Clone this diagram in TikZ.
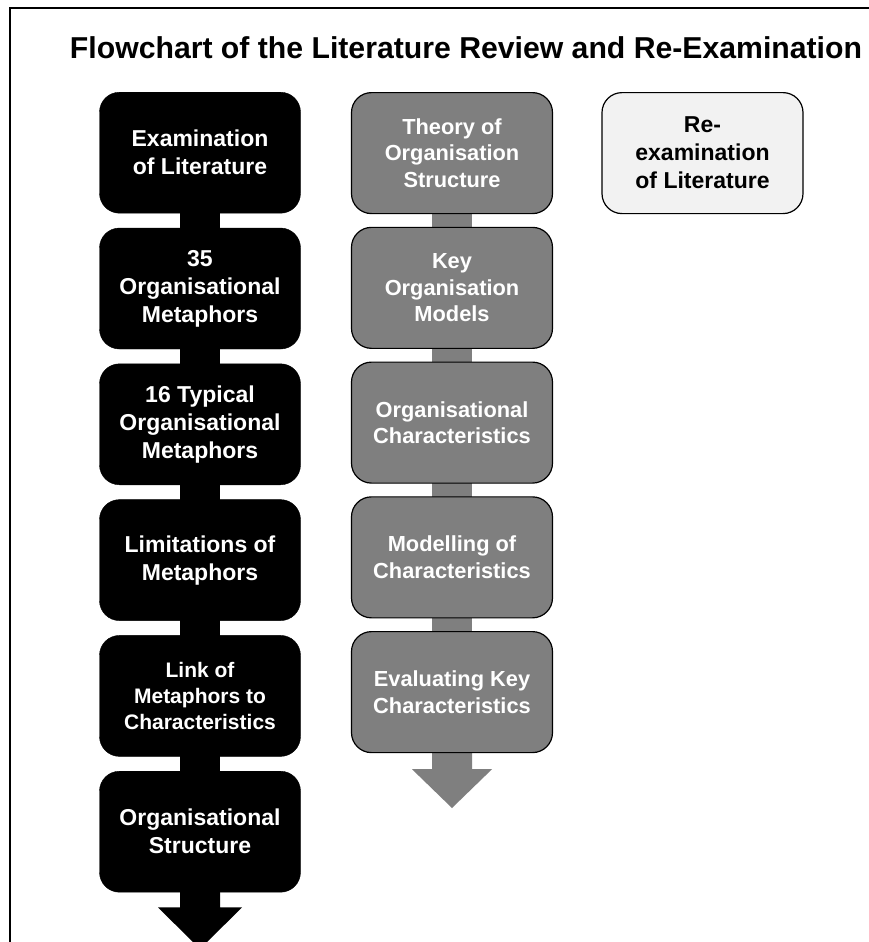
\documentclass[tikz,border=0pt]{standalone}
\usepackage{fontspec}
\setmainfont{Liberation Sans}
\usetikzlibrary{calc,backgrounds}
\definecolor{midgray}{HTML}{7F7F7F}
\definecolor{lightbox}{HTML}{F2F2F2}
\begin{document}
\begin{tikzpicture}[x=1pt,y=-1pt,
  base/.style={rounded corners=20pt, minimum width=201pt, minimum height=121pt,
    inner sep=0pt, align=center, font=\fontsize{23}{28}\selectfont\bfseries, anchor=north},
  smalltext/.style={font=\fontsize{21}{26}\selectfont\bfseries},
  midtext/.style={font=\fontsize{21.8}{26.5}\selectfont\bfseries},
  blackbox/.style={base, fill=black, draw=black, text=white},
  graybox/.style={base, midtext, fill=midgray, draw=black, line width=1.2pt, text=white},
  lightnode/.style={base, fill=lightbox, draw=black, line width=1.2pt, text=black},
  blacklink/.style={fill=black},
  graylink/.style={fill=midgray},
]
\useasboundingbox (0,0) rectangle (869,942);
\draw[line width=1.8pt] (10,944) -- (10,8) -- (871,8);
\node[anchor=base, font=\fontsize{30.2}{35}\selectfont\bfseries] (title) at (466,59) {Flowchart of the Literature Review and Re-Examination};

% column 1
\node[blackbox] (a1) at (200,92) {Examination\\of Literature};
\node[blackbox] (a2) at (200,227.8) {35\\Organisational\\Metaphors};
\node[blackbox] (a3) at (200,363.6) {16 Typical\\Organisational\\Metaphors};
\node[blackbox] (a4) at (200,499.4) {Limitations of\\Metaphors};
\node[blackbox, smalltext] (a5) at (200,635.2) {Link of\\Metaphors to\\Characteristics};
\node[blackbox] (a6) at (200,771) {Organisational\\Structure};
\coordinate (aend) at (200,949);

% column 2
\node[graybox] (b1) at (452,92) {Theory of\\Organisation\\Structure};
\node[graybox] (b2) at (452,226.75) {Key\\Organisation\\Models};
\node[graybox] (b3) at (452,361.5) {Organisational\\Characteristics};
\node[graybox] (b4) at (452,496.25) {Modelling of\\Characteristics};
\node[graybox] (b5) at (452,631) {Evaluating Key\\Characteristics};
\coordinate (bend) at (452,808);

% column 3
\node[lightnode] (c1) at (702.5,92) {Re-\\examination\\of Literature};

\begin{scope}[on background layer]
  \fill[white] (0,0) rectangle (869,942);
  \foreach \u/\v in {a1/a2,a2/a3,a3/a4,a4/a5,a5/a6}
    \fill[blacklink] ($(\u.south)+(-20,-2)$) rectangle ($(\v.north)+(20,2)$);
  \foreach \u/\v in {b1/b2,b2/b3,b3/b4,b4/b5}
    \fill[graylink] ($(\u.south)+(-20,-2)$) rectangle ($(\v.north)+(20,2)$);
  % arrows
  \fill[blacklink] ($(a6.south)+(-20,-2)$) -- ($(a6.south)+(-20,15)$) -- ($(a6.south)+(-42,15)$)
     -- (aend) -- ($(a6.south)+(42,15)$) -- ($(a6.south)+(20,15)$) -- ($(a6.south)+(20,-2)$) -- cycle;
  \fill[graylink] ($(b5.south)+(-20,-2)$) -- ($(b5.south)+(-20,16)$) -- ($(b5.south)+(-40,16)$)
     -- (bend) -- ($(b5.south)+(40,16)$) -- ($(b5.south)+(20,16)$) -- ($(b5.south)+(20,-2)$) -- cycle;
\end{scope}
\end{tikzpicture}
\end{document}
